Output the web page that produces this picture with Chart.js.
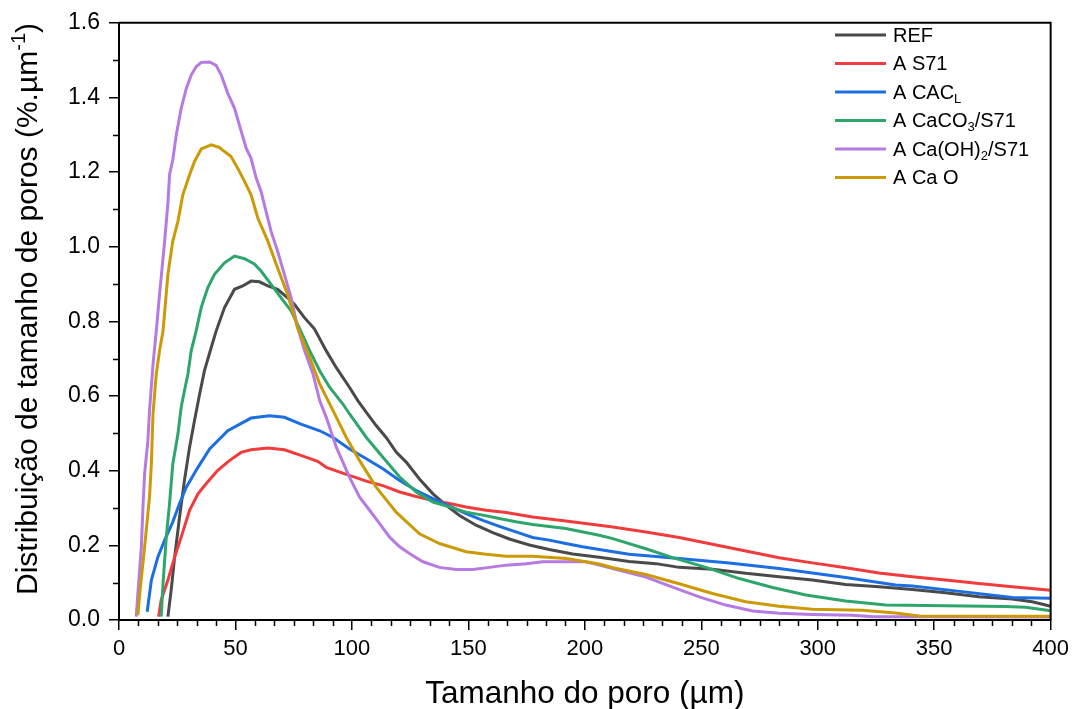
<!DOCTYPE html>
<html>
<head>
<meta charset="utf-8">
<script src="https://cdn.jsdelivr.net/npm/chart.js@4.4.1/dist/chart.umd.min.js"></script>
<style>
  html, body { margin: 0; padding: 0; background: #fff; }
  #wrap { width: 1075px; height: 709px; }
</style>
</head>
<body>
<div id="wrap"><canvas id="myChart" width="1075" height="709"></canvas></div>
<script>
// data (pore size in µm, distribution in %.µm-1)
const labels = ['REF', 'A S71', 'A CAC_{L}', 'A CaCO_{3}/S71', 'A Ca(OH)_{2}/S71', 'A Ca O'];
const colors = ['#4a4a4a', '#f03c3c', '#1b6fe0', '#2ea66b', '#b57be3', '#cc9a06'];

const xTicks = [0, 50, 100, 150, 200, 250, 300, 350, 400];
const yTicks = [0, 0.2, 0.4, 0.6, 0.8, 1.0, 1.2, 1.4, 1.6];

const refX = [21, 22.4, 23.9, 26, 28.1, 30.3, 32.4, 34.6, 36.7, 39.6, 41.7, 45.3, 49.6, 53.1, 56.7, 60.3, 63.9, 68.1, 72.4, 75.3, 79.6, 83.9, 89, 93.3, 99, 102.6, 106.2, 110.4, 114.7, 119, 123.3, 129, 134.8, 140.5, 146.2, 153.3, 160.5, 167.6, 176.2, 184.7, 194.8, 206.2, 219, 230.5, 240.5, 254.8, 269.1, 283.4, 297.7, 312, 326.3, 340.6, 354.9, 369.2, 383.5, 392.1, 400];
const refY = [0.009, 0.08, 0.169, 0.276, 0.374, 0.463, 0.534, 0.605, 0.668, 0.73, 0.774, 0.837, 0.886, 0.895, 0.908, 0.906, 0.895, 0.886, 0.863, 0.846, 0.81, 0.78, 0.721, 0.676, 0.623, 0.587, 0.556, 0.521, 0.489, 0.45, 0.423, 0.378, 0.338, 0.307, 0.28, 0.254, 0.234, 0.217, 0.201, 0.189, 0.177, 0.168, 0.157, 0.151, 0.141, 0.136, 0.125, 0.116, 0.107, 0.095, 0.089, 0.082, 0.073, 0.062, 0.056, 0.049, 0.037];

const s71X = [17, 18.1, 21, 23.9, 26.7, 30.3, 33.9, 37.4, 42.4, 47.4, 52.4, 56.7, 63.9, 71, 78.1, 85.3, 89, 94.8, 100.5, 106.2, 113.3, 120.5, 127.6, 134.8, 141.9, 149, 157.6, 166.2, 177.6, 191.8, 206.2, 212, 226.2, 240.5, 254.8, 269.1, 283.4, 297.7, 312, 326.3, 340.6, 354.9, 369.2, 383.5, 400];
const s71Y = [0.009, 0.053, 0.107, 0.169, 0.222, 0.294, 0.338, 0.365, 0.401, 0.427, 0.449, 0.456, 0.461, 0.456, 0.441, 0.425, 0.409, 0.396, 0.384, 0.372, 0.36, 0.343, 0.331, 0.32, 0.312, 0.303, 0.294, 0.288, 0.276, 0.265, 0.254, 0.249, 0.236, 0.221, 0.203, 0.185, 0.167, 0.153, 0.14, 0.126, 0.116, 0.107, 0.098, 0.089, 0.08];

const cacX = [12.1, 13.9, 16.7, 19.6, 23.1, 26, 28.9, 33.9, 38.9, 46.7, 56.7, 64.6, 71, 78.1, 86.2, 91.9, 99, 106.2, 113.3, 120.5, 127.6, 134.8, 141.9, 149, 156.2, 163.3, 170.4, 177.6, 184.7, 191.8, 199, 206.2, 219, 240.5, 262, 283.4, 312, 333.4, 340.6, 362, 383.5, 400];
const cacY = [0.022, 0.107, 0.169, 0.214, 0.263, 0.312, 0.356, 0.409, 0.458, 0.507, 0.541, 0.547, 0.543, 0.525, 0.507, 0.489, 0.458, 0.432, 0.405, 0.374, 0.347, 0.325, 0.305, 0.285, 0.267, 0.251, 0.236, 0.221, 0.214, 0.205, 0.196, 0.189, 0.176, 0.165, 0.153, 0.138, 0.114, 0.094, 0.091, 0.076, 0.06, 0.058];

const caco3X = [18.1, 18.9, 20.3, 21.7, 23.1, 25.3, 26.7, 28.1, 29.6, 31, 33.1, 35.3, 38.1, 41, 45.3, 49.6, 53.9, 58.1, 61, 65.3, 69.6, 73.9, 77.6, 81.9, 86.2, 90.5, 96.2, 99, 106.2, 113.3, 120.5, 127.6, 134.8, 141.9, 149, 156.2, 163.3, 170.4, 177.6, 191.8, 206.2, 212, 226.2, 237.7, 252, 266.3, 280.6, 294.9, 312, 329.2, 354.9, 380.6, 389.2, 400];
const caco3Y = [0.009, 0.098, 0.222, 0.312, 0.418, 0.498, 0.57, 0.614, 0.659, 0.721, 0.774, 0.837, 0.89, 0.926, 0.957, 0.975, 0.968, 0.954, 0.935, 0.899, 0.863, 0.828, 0.78, 0.721, 0.667, 0.623, 0.578, 0.552, 0.489, 0.436, 0.383, 0.343, 0.316, 0.303, 0.289, 0.281, 0.272, 0.263, 0.256, 0.245, 0.227, 0.218, 0.191, 0.167, 0.141, 0.111, 0.087, 0.067, 0.051, 0.04, 0.038, 0.036, 0.034, 0.025];

const caohX = [7.4, 8.1, 9.6, 10.3, 11, 12.4, 13.1, 14.6, 16, 17.4, 19.6, 21, 21.7, 23.1, 24.6, 26.7, 28.9, 31, 33.1, 35.3, 38.9, 41.7, 43.9, 46.7, 49.6, 51.7, 54.6, 56.7, 58.9, 61, 62.4, 65.3, 68.1, 71, 73.9, 76.7, 79.7, 83.3, 86.2, 89, 93.3, 99, 103.3, 107.6, 111.9, 116.2, 120.5, 124.7, 130.5, 137.6, 144.8, 151.9, 159.1, 166.2, 174.8, 182, 192, 200.5, 206.2, 214.8, 226.2, 237.7, 249.1, 260.5, 272, 283.4, 297.7, 314.9, 323.5, 340.6, 400];
const caohY = [0.009, 0.071, 0.196, 0.303, 0.392, 0.48, 0.561, 0.685, 0.774, 0.872, 1.015, 1.117, 1.193, 1.233, 1.3, 1.371, 1.424, 1.46, 1.482, 1.494, 1.495, 1.486, 1.46, 1.411, 1.371, 1.326, 1.264, 1.237, 1.184, 1.148, 1.113, 1.041, 0.988, 0.926, 0.863, 0.783, 0.721, 0.659, 0.587, 0.543, 0.463, 0.382, 0.329, 0.294, 0.258, 0.222, 0.196, 0.178, 0.156, 0.141, 0.135, 0.135, 0.141, 0.147, 0.151, 0.156, 0.156, 0.156, 0.147, 0.133, 0.115, 0.088, 0.062, 0.04, 0.024, 0.018, 0.015, 0.013, 0.009, 0.009, 0.008];

const caoX = [8.1, 8.9, 11, 13.1, 13.9, 14.6, 16, 17.4, 18.9, 21, 23.1, 25.3, 27.4, 30.3, 32.4, 35.3, 39.6, 43.1, 45.3, 48.1, 51, 53.9, 56.7, 59.6, 63.9, 68.1, 72.4, 76.7, 81.9, 86.2, 91.9, 97.6, 103.3, 110.4, 119, 129, 137.6, 149, 157.6, 166.2, 177.6, 192, 206.2, 212, 226.2, 240.5, 254.8, 269.1, 283.4, 297.7, 319.1, 333.4, 343.4, 400];
const caoY = [0.013, 0.071, 0.196, 0.329, 0.418, 0.552, 0.659, 0.721, 0.774, 0.926, 1.015, 1.068, 1.139, 1.193, 1.228, 1.262, 1.273, 1.266, 1.255, 1.242, 1.21, 1.175, 1.139, 1.077, 1.015, 0.943, 0.872, 0.783, 0.703, 0.632, 0.561, 0.489, 0.427, 0.356, 0.289, 0.231, 0.205, 0.183, 0.176, 0.171, 0.171, 0.165, 0.15, 0.14, 0.122, 0.097, 0.071, 0.049, 0.037, 0.029, 0.026, 0.019, 0.011, 0.01];

const seriesX = [refX, s71X, cacX, caco3X, caohX, caoX];
const seriesY = [refY, s71Y, cacY, caco3Y, caohY, caoY];

const FONT = "'Liberation Sans', Arial, sans-serif";
Chart.defaults.font.family = FONT;
Chart.defaults.color = '#000';

// draw text where _{..} is a subscript and ^{..} a superscript
function richParts(str) {
  const parts = [];
  const re = /([_^])\{([^}]*)\}/g;
  let last = 0, m;
  while ((m = re.exec(str)) !== null) {
    if (m.index > last) parts.push({ t: str.slice(last, m.index), k: '' });
    parts.push({ t: m[2], k: m[1] });
    last = re.lastIndex;
  }
  if (last < str.length) parts.push({ t: str.slice(last), k: '' });
  return parts;
}
function richWidth(ctx, str, size) {
  let w = 0;
  richParts(str).forEach(p => {
    ctx.font = (p.k ? Math.round(size * 0.65) : size) + 'px ' + FONT;
    w += ctx.measureText(p.t).width;
  });
  return w;
}
function drawRich(ctx, str, x, y, size) {
  richParts(str).forEach(p => {
    const s = p.k ? Math.round(size * 0.65) : size;
    ctx.font = s + 'px ' + FONT;
    let dy = 0;
    if (p.k === '_') dy = size * 0.3;
    if (p.k === '^') dy = -size * 0.4;
    ctx.fillText(p.t, x, y + dy);
    x += ctx.measureText(p.t).width;
  });
}

const extras = {
  id: 'extras',
  afterDraw(chart) {
    const ctx = chart.ctx, a = chart.chartArea;
    const xs = chart.scales.x, ys = chart.scales.y;
    ctx.save();
    ctx.strokeStyle = '#000';
    ctx.fillStyle = '#000';

    // top and right frame
    ctx.lineWidth = 2;
    ctx.beginPath();
    ctx.moveTo(a.left, a.top);
    ctx.lineTo(a.right, a.top);
    ctx.lineTo(a.right, a.bottom);
    ctx.stroke();

    // minor ticks
    ctx.lineWidth = 1.5;
    ctx.beginPath();
    for (let k = 1; k < 48; k++) {
      if (k % 6 === 0) continue;
      const px = Math.round(xs.getPixelForValue(k * 50 / 6)) + 0.5;
      ctx.moveTo(px, a.bottom);
      ctx.lineTo(px, a.bottom + 6);
    }
    for (let k = 1; k < 16; k += 2) {
      const py = Math.round(ys.getPixelForValue(k / 10)) + 0.5;
      ctx.moveTo(a.left, py);
      ctx.lineTo(a.left - 6, py);
    }
    ctx.stroke();

    // axis titles
    ctx.textBaseline = 'alphabetic';
    const xt = 'Tamanho do poro (µm)';
    let w = richWidth(ctx, xt, 31.5);
    drawRich(ctx, xt, (a.left + a.right) / 2 - w / 2, 703, 31.5);

    const yt = 'Distribuição de tamanho de poros (%.µm^{-1})';
    ctx.save();
    ctx.translate(37, 309);
    ctx.rotate(-Math.PI / 2);
    w = richWidth(ctx, yt, 30);
    drawRich(ctx, yt, -w / 2, 0, 30);
    ctx.restore();

    // legend
    chart.data.datasets.forEach((ds, i) => {
      const y = 35 + i * 28.5;
      ctx.strokeStyle = ds.borderColor;
      ctx.lineWidth = 3;
      ctx.beginPath();
      ctx.moveTo(835, y);
      ctx.lineTo(886, y);
      ctx.stroke();
      ctx.textBaseline = 'middle';
      drawRich(ctx, labels[i], 893, y + 1, 20);
    });
    ctx.restore();
  }
};

const ctx = document.getElementById('myChart');
const myChart = new Chart(ctx, {
  type: 'line',
  data: {
    datasets: labels.map((lab, i) => ({
      label: lab,
      data: seriesX[i].map((x, j) => ({ x: x, y: seriesY[i][j] })),
      borderColor: colors[i],
      backgroundColor: colors[i],
      borderWidth: 3,
      pointRadius: 0,
      tension: 0,
      fill: false,
      order: labels.length - i
    }))
  },
  options: {
    responsive: false,
    animation: false,
    layout: { padding: { left: 0, top: 21, right: 23, bottom: 0 } },
    plugins: {
      legend: { display: false },
      tooltip: { enabled: false }
    },
    scales: {
      x: {
        type: 'linear',
        min: 0,
        max: 400,
        afterFit: s => { s.height = 89; },
        afterBuildTicks: s => { s.ticks = xTicks.map(v => ({ value: v })); },
        border: { color: '#000', width: 2 },
        grid: { drawOnChartArea: false, tickLength: 10, lineWidth: 1.5, color: '#000' },
        ticks: { font: { size: 22 }, padding: 6, maxRotation: 0, autoSkip: false }
      },
      y: {
        min: 0,
        max: 1.6,
        afterFit: s => { s.width = 119; },
        afterBuildTicks: s => { s.ticks = yTicks.map(v => ({ value: v })); },
        border: { color: '#000', width: 2 },
        grid: { drawOnChartArea: false, tickLength: 10, lineWidth: 1.5, color: '#000' },
        ticks: { font: { size: 23 }, padding: 9, autoSkip: false, callback: v => v.toFixed(1) }
      }
    }
  },
  plugins: [extras]
});
</script>
</body>
</html>
